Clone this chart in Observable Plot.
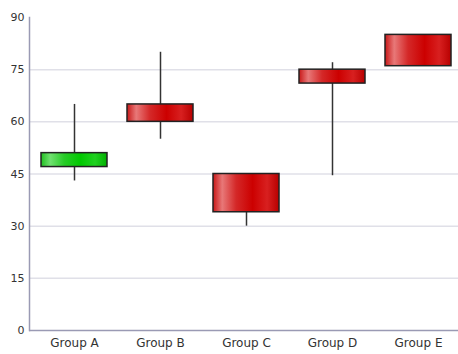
<!DOCTYPE html>
<html>
<head>
<meta charset="utf-8">
<script src="https://cdn.jsdelivr.net/npm/d3@7"></script>
<script src="https://cdn.jsdelivr.net/npm/@observablehq/plot@0.6"></script>
<style>
  html, body { margin: 0; padding: 0; background: #fff; }
  svg { display: block; }
</style>
</head>
<body>
<div id="chart"></div>
<script>
const groups = ["Group A", "Group B", "Group C", "Group D", "Group E"];
const open  = [47, 65, 45, 75, 85];
const close = [51, 60, 34, 71, 76];
const high  = [65, 80, 45, 77, 85];
const low   = [43, 55, 30, 44.5, 76];
const yTicks = [0, 15, 30, 45, 60, 75, 90];

const data = groups.map((g, i) => ({
  group: g, open: open[i], close: close[i], high: high[i], low: low[i],
  up: close[i] >= open[i]
}));

const chart = Plot.plot({
  width: 458,
  height: 354,
  marginTop: 17,
  marginBottom: 24,
  marginLeft: 29,
  marginRight: 0,
  style: { fontFamily: "DejaVu Sans, sans-serif", fontSize: "11px", color: "#333", background: "#fff" },
  x: { domain: groups, range: [29, 463], paddingInner: 0.23, paddingOuter: 0.115, label: null },
  y: { domain: [0, 90], label: null },
  marks: [
    Plot.gridY(yTicks.filter(d => d > 0 && d < 90), { stroke: "#e0e0e8", strokeOpacity: 1, strokeWidth: 1.5 }),
    Plot.axisY(yTicks, { tickSize: 0, tickPadding: 5, fill: "#333", fontSize: 11 }),
    Plot.axisX({ tickSize: 0, tickPadding: 8, fill: "#333", fontSize: 12 }),
    Plot.frame({ anchor: "left", stroke: "#9a9ab4", strokeWidth: 1.5 }),
    Plot.ruleY([0], { stroke: "#9a9ab4", strokeWidth: 1.5 }),
    Plot.ruleX(data, { x: "group", y1: "low", y2: "high", stroke: "#333", strokeWidth: 1.5 }),
    Plot.barY(data, {
      x: "group", y1: "open", y2: "close",
      fill: d => d.up ? "url(#gradGreen)" : "url(#gradRed)",
      stroke: "#222", strokeWidth: 1.5
    })
  ]
});

const ns = "http://www.w3.org/2000/svg";
const defs = document.createElementNS(ns, "defs");
defs.innerHTML = `
<linearGradient id="gradRed" x1="0" x2="1" y1="0" y2="0">
  <stop offset="0" stop-color="#c81818"/>
  <stop offset="0.14" stop-color="#e87878"/>
  <stop offset="0.35" stop-color="#d42828"/>
  <stop offset="0.6" stop-color="#cc0000"/>
  <stop offset="0.82" stop-color="#d82020"/>
  <stop offset="1" stop-color="#b80000"/>
</linearGradient>
<linearGradient id="gradGreen" x1="0" x2="1" y1="0" y2="0">
  <stop offset="0" stop-color="#20c020"/>
  <stop offset="0.14" stop-color="#70e070"/>
  <stop offset="0.35" stop-color="#28cc28"/>
  <stop offset="0.6" stop-color="#00c800"/>
  <stop offset="0.82" stop-color="#20d020"/>
  <stop offset="1" stop-color="#00b000"/>
</linearGradient>`;
chart.insertBefore(defs, chart.firstChild);
document.getElementById("chart").appendChild(chart);
</script>
</body>
</html>
